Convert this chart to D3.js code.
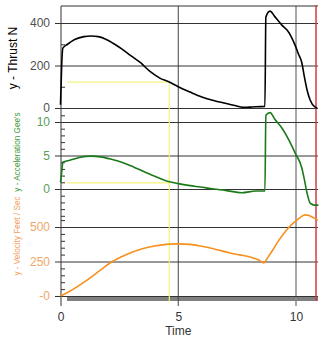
<!DOCTYPE html>
<html><head><meta charset="utf-8">
<script src="https://cdn.jsdelivr.net/npm/d3@7"></script>
<style>body{margin:0;background:#fff}svg{display:block;font-family:"Liberation Sans",Arial,sans-serif}</style>
</head><body><svg id="c" width="325" height="339"></svg>
<script>
// ---- data ----
const thrustT = [0,0.05,0.1,0.3,0.6,1.0,1.3,1.6,1.9,2.3,2.6,3.0,3.4,3.8,4.2,4.62,5.0,5.5,6.0,6.5,7.0,7.4,7.75,8.0,8.3,8.68,8.72,8.9,9.1,9.4,9.62,9.8,9.96,10.1,10.25,10.35,10.47,10.6,10.8,10.9];
const thrustN = [15,200,282,300,322,336,339,336,325,300,278,245,213,172,142,122,100,75,52,35,22,12,3,4,6,7,428,456,430,390,367,335,296,255,212,150,85,38,5,0];
const accelT = [0,0.05,0.1,0.4,0.8,1.3,1.7,2.2,2.6,3.1,3.6,4.0,4.5,5.0,5.5,5.93,6.5,7.0,7.7,8.3,8.68,8.72,8.9,9.1,9.4,9.7,9.96,10.25,10.35,10.47,10.6,10.8,10.95];
const accelG = [1.0,2.5,4.0,4.3,4.7,4.9,4.8,4.4,4.0,3.3,2.5,1.9,1.2,0.8,0.5,0.3,0.0,-0.2,-0.55,-0.3,-0.3,11.0,11.4,10.4,9.1,7.3,5.4,3.1,1.5,-0.6,-2.1,-2.4,-2.4];
const velT = [0,0.3,1.0,1.7,2.2,2.8,3.4,4.0,4.6,5.0,5.5,6.0,6.65,7.2,7.6,8.05,8.4,8.64,8.8,9.0,9.2,9.45,9.62,9.8,10.0,10.2,10.38,10.55,10.75,10.93];
const velF = [0,25,100,188,250,300,338,362,376,378,374,360,335,312,298,283,262,240,278,330,385,445,482,515,545,572,588,584,566,550];
const timeTicks = [0,5,10];
const thrustTicks = [0,200,400], thrustMinor = [100,300];
const accelTicks = [0,5,10], accelMinor = [-4,-3,-2,-1,1,2,3,4,6,7,8,9,11];
const velTicks = [0,250,500], velMinor = [50,100,150,200,300,350,400,450,550];
const velTickLabels = ["-0","250","500"];
const cursorT = 4.62, cursorThrust = 122, cursorAccel = 0.9, cursorStart = 0.28;
const endT = 10.85;

// ---- scales ----
const svg = d3.select("#c");
const L = 61, R = 318, TOP = 6, BOT = 306;
const x = d3.scaleLinear().domain([0,10]).range([60.5,296]);
const yT = d3.scaleLinear().domain([0,400]).range([108,23]);
const yA = d3.scaleLinear().domain([0,10]).range([189,122]);
const yV = d3.scaleLinear().domain([0,500]).range([296,227]);

// gray bar
svg.append("rect").attr("x",67).attr("y",297).attr("width",R-67).attr("height",4).attr("fill","#808080");

// vertical grid lines
svg.append("line").attr("x1",x(5)).attr("x2",x(5)).attr("y1",TOP).attr("y2",BOT).attr("stroke","#444").attr("stroke-width",1);
svg.append("line").attr("x1",x(10)).attr("x2",x(10)).attr("y1",TOP).attr("y2",BOT).attr("stroke","#8a8a8a").attr("stroke-width",1.5);

// top border
svg.append("line").attr("x1",L).attr("x2",R).attr("y1",TOP).attr("y2",TOP).attr("stroke","#333");

function yaxis(scale, ticks, minor, color, fmt){
  const g = svg.append("g").attr("transform",`translate(${L},0)`);
  g.call(d3.axisLeft(scale).tickValues(ticks).tickSize(-(R-L)).tickPadding(11).tickFormat(fmt));
  g.select(".domain").remove();
  g.selectAll(".tick line").attr("stroke","#333").attr("x1",-6);
  g.selectAll(".tick text").attr("fill",color).style("font-size","12px").style("font-family","'Liberation Sans',Arial,sans-serif");
  const m = svg.append("g").attr("transform",`translate(${L},0)`);
  m.call(d3.axisRight(scale).tickValues(minor).tickSize(4).tickFormat(""));
  m.select(".domain").remove();
  m.selectAll(".tick line").attr("stroke","#333");
}
yaxis(yT, thrustTicks, thrustMinor, "#505050", d => d);
yaxis(yA, accelTicks, accelMinor, "#5a9e5a", d => d);
yaxis(yV, velTicks, velMinor, "#f0a868", (d,i) => velTickLabels[i]);

// left axis line
svg.append("line").attr("x1",L).attr("x2",L).attr("y1",TOP).attr("y2",BOT).attr("stroke","#333");

// x axis
const xg = svg.append("g").attr("transform",`translate(0,${BOT})`);
xg.call(d3.axisBottom(x).tickValues(timeTicks).tickSize(0).tickPadding(6));
xg.select(".domain").remove();
xg.selectAll(".tick text").attr("fill","#333").style("font-size","12px").style("font-family","'Liberation Sans',Arial,sans-serif");
svg.append("text").attr("x",x(5)).attr("y",335).attr("text-anchor","middle").attr("fill","#333").style("font-size","12px").text("Time");

// yellow cursor
const yc = "#f5f27a";
svg.append("line").attr("x1",x(cursorStart)).attr("x2",x(cursorT)).attr("y1",yT(cursorThrust)).attr("y2",yT(cursorThrust)).attr("stroke",yc).attr("stroke-width",1.2);
svg.append("line").attr("x1",x(cursorStart)).attr("x2",x(cursorT)).attr("y1",yA(cursorAccel)).attr("y2",yA(cursorAccel)).attr("stroke",yc).attr("stroke-width",1.2);
svg.append("line").attr("x1",x(cursorT)).attr("x2",x(cursorT)).attr("y1",yT(cursorThrust)).attr("y2",301).attr("stroke",yc).attr("stroke-width",1.2);

// red end line
svg.append("line").attr("x1",x(endT)).attr("x2",x(endT)).attr("y1",TOP-1).attr("y2",301).attr("stroke","#cc4040").attr("stroke-width",1.5);

// curves
function curve(ts, vs, ys, color){
  const pts = ts.map((t,i)=>[t,vs[i]]);
  svg.append("path").datum(pts)
    .attr("d", d3.line().x(d=>x(d[0])).y(d=>ys(d[1])).curve(d3.curveMonotoneX))
    .attr("fill","none").attr("stroke",color).attr("stroke-width",1.6).attr("stroke-linejoin","round");
}
curve(thrustT, thrustN, yT, "#000");
curve(accelT, accelG, yA, "#1a7a1a");
curve(velT, velF, yV, "#f7901e");

// titles
function title(txt, cx, cy, size, color){
  svg.append("text").attr("transform",`translate(${cx},${cy}) rotate(-90)`).attr("text-anchor","middle")
    .attr("fill",color).style("font-size",size+"px").text(txt);
}
title("y - Thrust N", 17, 58, 12, "#000");
title("y - Acceleration Gee's", 20, 152, 8.2, "#3c9b3c");
title("y - Velocity Feet / Sec", 20, 236, 8.2, "#f0a060");
</script></body></html>
